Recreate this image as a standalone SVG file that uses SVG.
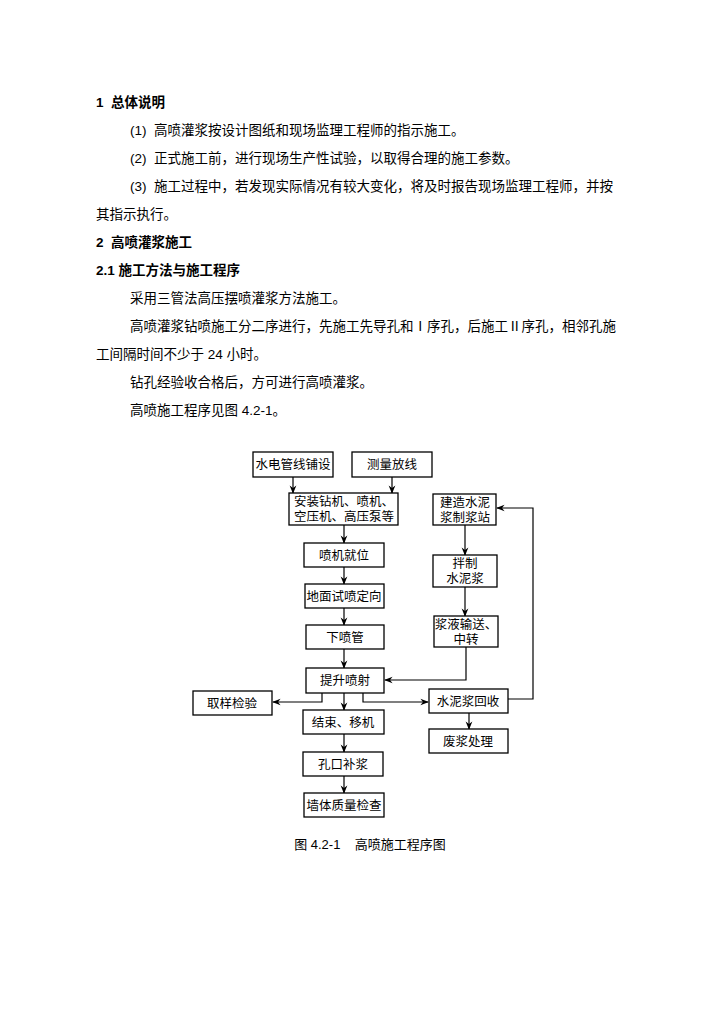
<svg xmlns="http://www.w3.org/2000/svg" width="724" height="1024" viewBox="0 0 724 1024" xml:space="preserve">
<style>
text{font-family:"Liberation Sans","Noto Sans CJK SC",sans-serif;font-size:13.5px;fill:#000;white-space:pre}
.b{font-weight:bold}
.n rect{fill:#fff;stroke:#000;stroke-width:1.3}
.n text{text-anchor:middle;font-size:12.5px}
.c path{fill:none;stroke:#000;stroke-width:1.2;marker-end:url(#a)}
</style>
<defs><marker id="a" viewBox="0 0 10 10" refX="9" refY="5" markerWidth="7" markerHeight="7" orient="auto"><path d="M0,1L10,5L0,9L3,5Z" fill="#000"/></marker></defs>
<rect width="724" height="1024" fill="#fff"/>
<text x="96" y="107" class="b">1  总体说明</text>
<text x="130" y="135">(1)  高喷灌浆按设计图纸和现场监理工程师的指示施工。</text>
<text x="130" y="163">(2)  正式施工前，进行现场生产性试验，以取得合理的施工参数。</text>
<text x="130" y="191">(3)  施工过程中，若发现实际情况有较大变化，将及时报告现场监理工程师，并按</text>
<text x="96" y="219">其指示执行。</text>
<text x="96" y="247" class="b">2  高喷灌浆施工</text>
<text x="96" y="275" class="b">2.1 施工方法与施工程序</text>
<text x="130" y="303">采用三管法高压摆喷灌浆方法施工。</text>
<text x="130" y="331">高喷灌浆钻喷施工分二序进行，先施工先导孔和Ⅰ序孔，后施工Ⅱ序孔，相邻孔施</text>
<text x="96" y="359">工间隔时间不少于 24 小时。</text>
<text x="130" y="387">钻孔经验收合格后，方可进行高喷灌浆。</text>
<text x="130" y="415">高喷施工程序见图 4.2-1。</text>
<g class="c">
<path d="M293,477V493"/><path d="M392,477V493"/><path d="M344,525V543"/><path d="M344,567V584"/><path d="M344,608V625"/><path d="M344,649V668"/>
<path d="M465,525V555"/><path d="M465,587V616"/><path d="M466,647V680H385"/>
<path d="M322,693V702H273"/><path d="M363,693V702H428"/><path d="M344,693V710"/>
<path d="M344,734V752"/><path d="M344,776V793"/><path d="M469,713V729"/>
<path d="M508,699H533V508H497"/>
</g>
<g class="n">
<g id="n1"><rect x="253" y="452" width="80" height="25"/><text x="293" y="469">水电管线铺设</text></g>
<g id="n2"><rect x="352" y="452" width="80" height="25"/><text x="392" y="469">测量放线</text></g>
<g id="n3"><rect x="289" y="493" width="109" height="32"/><text x="344" y="506">安装钻机、喷机、</text><text x="344" y="521">空压机、高压泵等</text></g>
<g id="n4"><rect x="433" y="494" width="63" height="31"/><text x="465" y="507">建造水泥</text><text x="465" y="522">浆制浆站</text></g>
<g id="n5"><rect x="304" y="543" width="80" height="24"/><text x="344" y="560">喷机就位</text></g>
<g id="n6"><rect x="433" y="555" width="64" height="32"/><text x="465" y="568">拌制</text><text x="465" y="583">水泥浆</text></g>
<g id="n7"><rect x="305" y="584" width="79" height="24"/><text x="344" y="601">地面试喷定向</text></g>
<g id="n8"><rect x="306" y="625" width="78" height="24"/><text x="345" y="642">下喷管</text></g>
<g id="n9"><rect x="434" y="616" width="64" height="31"/><text x="466" y="629">浆液输送、</text><text x="466" y="644">中转</text></g>
<g id="n10"><rect x="306" y="668" width="78" height="25"/><text x="345" y="685">提升喷射</text></g>
<g id="n11"><rect x="193" y="691" width="79" height="24"/><text x="232" y="708">取样检验</text></g>
<g id="n12"><rect x="429" y="689" width="79" height="24"/><text x="468" y="706">水泥浆回收</text></g>
<g id="n13"><rect x="303" y="710" width="81" height="24"/><text x="343" y="727">结束、移机</text></g>
<g id="n14"><rect x="429" y="729" width="79" height="24"/><text x="468" y="746">废浆处理</text></g>
<g id="n15"><rect x="303" y="752" width="80" height="24"/><text x="343" y="769">孔口补浆</text></g>
<g id="n16"><rect x="304" y="793" width="80" height="24"/><text x="344" y="810">墙体质量检查</text></g>
</g>
<text x="370" y="849" text-anchor="middle" style="font-size:13px">图 4.2-1    高喷施工程序图</text>
</svg>
